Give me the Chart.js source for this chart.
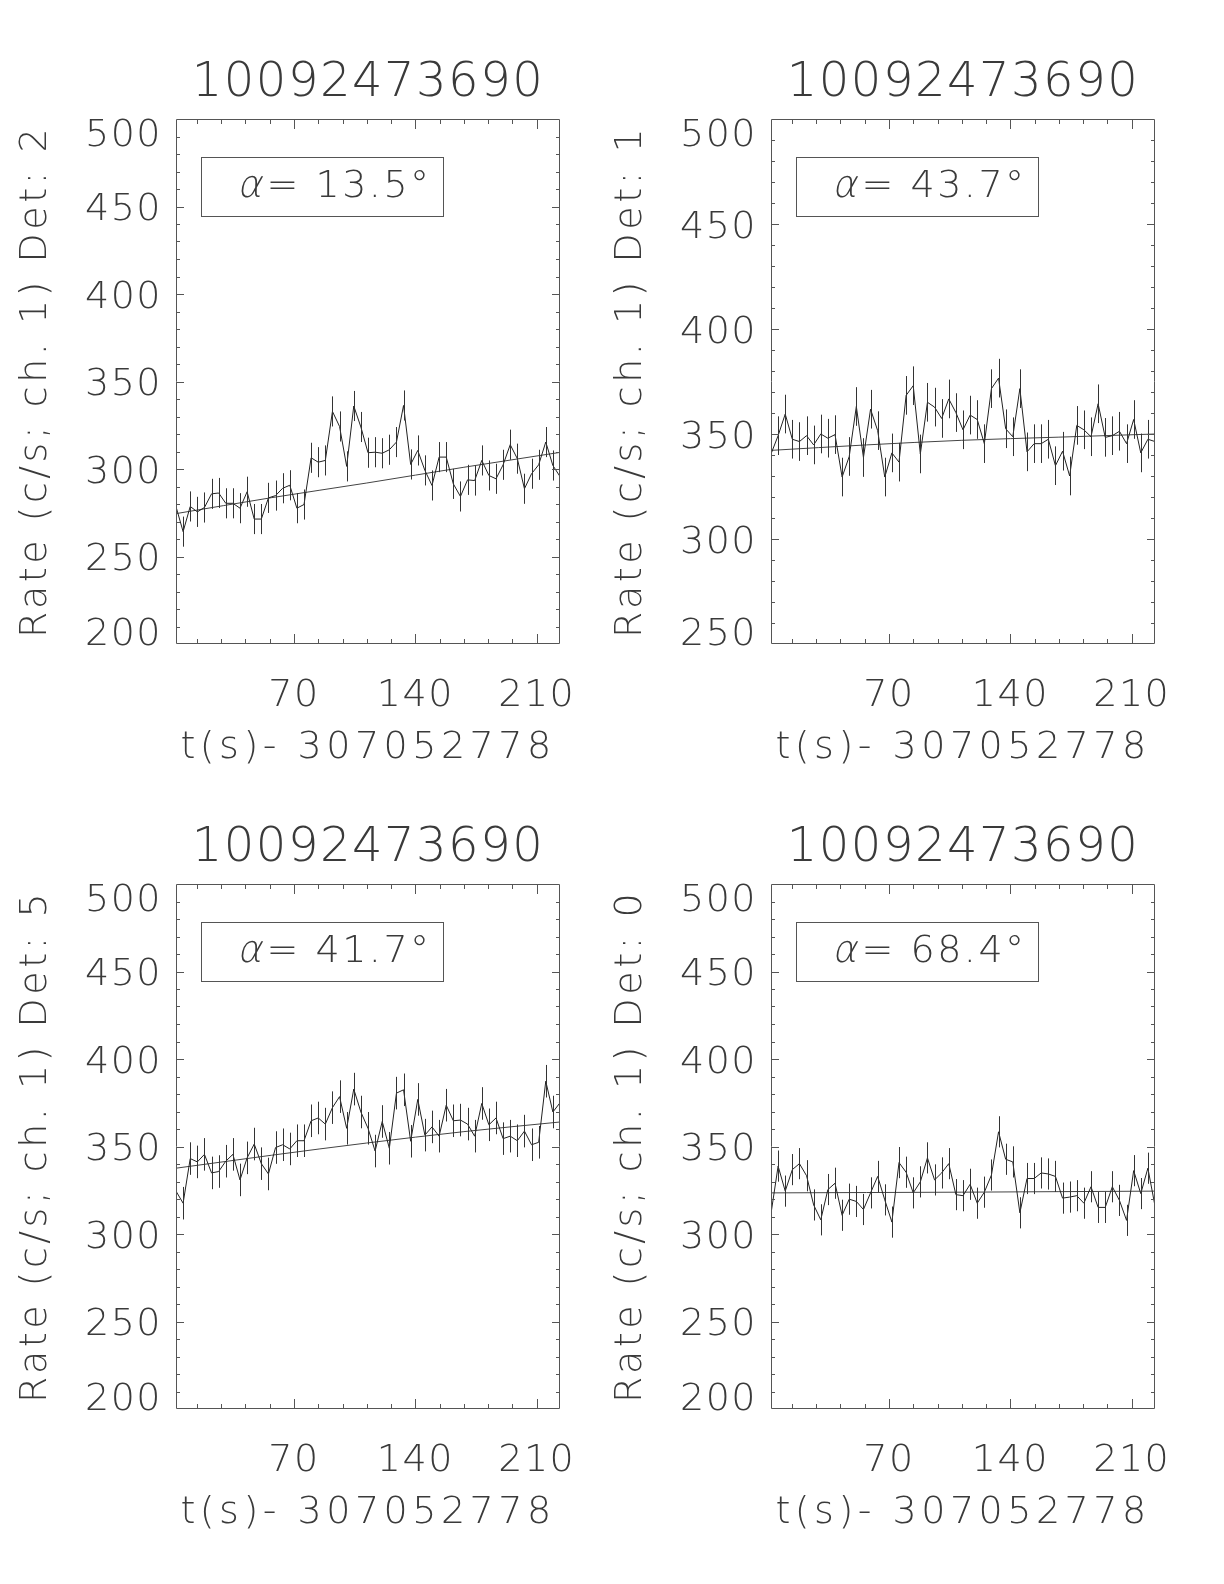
<!DOCTYPE html>
<html>
<head>
<meta charset="utf-8">
<script src="https://cdn.jsdelivr.net/npm/chart.js@4.4.1/dist/chart.umd.min.js"></script>
<style>
  body { margin: 0; background: #fff; }
  #page { position: relative; width: 1224px; height: 1584px; background: #fff; }
  .panel { position: absolute; width: 612px; height: 792px; }
</style>
</head>
<body>
<div id="page">
  <div class="panel" style="left:0px;top:0px"><canvas id="det2" width="612" height="792"></canvas></div>
  <div class="panel" style="left:595px;top:0px"><canvas id="det1" width="612" height="792"></canvas></div>
  <div class="panel" style="left:0px;top:765px"><canvas id="det5" width="612" height="792"></canvas></div>
  <div class="panel" style="left:595px;top:765px"><canvas id="det0" width="612" height="792"></canvas></div>
</div>
<script>
// light curve bins, t(s) - 307052778
const times = [2, 6.1, 10.2, 14.3, 18.4, 22.5, 26.6, 30.7, 34.8, 38.9,
    43, 47.1, 51.2, 55.3, 59.4, 63.5, 67.6, 71.7, 75.8, 79.9,
    84, 88.1, 92.2, 96.3, 100.4, 104.5, 108.6, 112.7, 116.8, 120.9,
    125, 129.1, 133.2, 137.3, 141.4, 145.5, 149.6, 153.7, 157.8, 161.9,
    166, 170.1, 174.2, 178.3, 182.4, 186.5, 190.6, 194.7, 198.8, 202.9,
    207, 211.1, 215.2, 219.3, 223.4];

const rateDet2 = [278.5, 264.2, 278.6, 275.5, 278, 285.8, 286.3, 280.4, 280.4, 277.6,
    287, 271.4, 271.4, 283.5, 284.8, 289, 290.7, 277.6, 279.7, 306.4,
    303.9, 304.9, 332.9, 324.3, 301.5, 336, 324, 309.3, 309.6, 309,
    311, 315.4, 336.3, 302.6, 310.6, 299.2, 290.6, 306.8, 306.8, 291.5,
    284.3, 293.8, 293.4, 304.9, 296.3, 294.4, 302.4, 313.9, 305.9, 288.7,
    297.3, 302.4, 315.4, 302, 295.7];
const rateDet1 = [340.5, 349.2, 359.5, 347.5, 346.4, 349.2, 344.8, 350, 348, 349.7,
    329.5, 339.3, 363.1, 338.8, 361.8, 351.6, 329.5, 341, 336.6, 368.4,
    373, 340.5, 365.1, 362.8, 357.4, 366.7, 360.2, 352, 359, 356.9,
    345.4, 371.6, 376.6, 352.5, 348.7, 371.6, 341.5, 345.4, 345.4, 347.5,
    334.9, 341.8, 330, 354.1, 352, 348.7, 364.4, 348.4, 349.2, 351.3,
    345.4, 356.9, 341, 347.5, 346.4];
const rateDet5 = [324.5, 317.6, 343.1, 341.2, 345.5, 334.9, 335.7, 341.6, 345.5, 330.9,
    343.5, 351.4, 340.2, 334.3, 349.4, 351, 348.6, 353.3, 353.3, 364.7,
    366.3, 362.8, 372.2, 378.5, 360.4, 382.8, 369.7, 360.4, 347.4, 364.3,
    349, 380.5, 382.4, 353, 376.9, 356.5, 361.2, 355.9, 373.6, 364.7,
    365.1, 362.8, 355.9, 374.6, 362.4, 366.3, 354.5, 355.9, 353.3, 358.8,
    351, 352.4, 387.3, 369.7, 375];
const rateDet0 = [311.7, 338.8, 324.5, 336.8, 340.2, 333.3, 316.6, 308.1, 325.4, 329,
    310.7, 319.9, 318.6, 314, 323.5, 332.9, 319.5, 306.8, 340.8, 335.3,
    323.5, 329.8, 343.5, 330.9, 334.9, 340.2, 322.5, 321.9, 328.4, 317.6,
    323.9, 333.7, 358.4, 342.7, 341.2, 312.1, 331.7, 331.7, 334.9, 334.3,
    332.9, 320.5, 321.1, 321.9, 317.6, 327, 315.2, 315.2, 327, 319.2,
    307.8, 336.2, 323.1, 337.6, 316];

// half length of the error bars (c/s)
const errHalf = [8.6, 9.2, 9.3, 8.9];

// fitted background curve
const fitTimes = [2, 57, 112, 168, 223.4];
const fitDet2 = [274.5, 283.6, 292, 301, 309.5];
const fitDet1 = [342.2, 344.8, 347, 348.5, 350];
const fitDet5 = [337.6, 345, 352, 358.5, 364];
const fitDet0 = [323.5, 323.7, 323.9, 324.2, 324.5];

const obsId = '10092473690';
const detectors = [2, 1, 5, 0];
const alphas = ['13.5', '43.7', '41.7', '68.4'];
const yMins = [200, 250, 200, 200];
const yMax = 500;
const xTicks = [70, 140, 210];

const FONT = '"DejaVu Sans", sans-serif';
const TXT = '#3a3a3a';
const INK = '#555';

// Hershey-like wide spacing: a little for numbers, more for the axis titles
const wideText = {
    id: 'wideText',
    beforeDraw(chart) {
        chart.ctx.letterSpacing = '1.5px';
        Object.values(chart.scales).forEach(s => {
            if (s._wide) return;
            let drawTitle = s.drawTitle;
            let gap = s.axis === 'x' ? '4.5px' : '3.5px';
            s.drawTitle = function () {
                let old = this.ctx.letterSpacing;
                this.ctx.letterSpacing = gap;
                drawTitle.call(this);
                this.ctx.letterSpacing = old;
            };
            s._wide = true;
        });
        // IDL keeps the end labels inside the frame
        let items = chart.scales.y.getLabelItems();
        if (!items._nudged) {
            items.forEach((it, i) => {
                let dy = 4;
                if (i === 0) dy = -9;
                else if (i === items.length - 1) dy = 17;
                it.options.translation[1] += dy;
            });
            items._nudged = true;
        }
    }
};

// frame + inward ticks on all four sides
const idlAxes = {
    id: 'idlAxes',
    afterDraw(chart) {
        let ctx = chart.ctx;
        let a = chart.chartArea;
        let x = chart.scales.x;
        let y = chart.scales.y;
        ctx.save();
        ctx.strokeStyle = INK;
        ctx.lineWidth = 1;
        ctx.beginPath();
        ctx.rect(a.left + 0.5, a.top + 0.5, a.right - a.left - 1, a.bottom - a.top - 1);
        for (let v = 14; v < x.max; v += 14) {
            let px = Math.round(x.getPixelForValue(v)) + 0.5;
            let len = v % 70 === 0 ? 10 : 5;
            ctx.moveTo(px, a.bottom);
            ctx.lineTo(px, a.bottom - len);
            ctx.moveTo(px, a.top);
            ctx.lineTo(px, a.top + len);
        }
        for (let v = y.min + 10; v < y.max; v += 10) {
            let py = Math.round(y.getPixelForValue(v)) + 0.5;
            let len = v % 50 === 0 ? 8 : 4;
            ctx.moveTo(a.left, py);
            ctx.lineTo(a.left + len, py);
            ctx.moveTo(a.right, py);
            ctx.lineTo(a.right - len, py);
        }
        ctx.stroke();
        ctx.restore();
    }
};

const errorBars = {
    id: 'errorBars',
    afterDatasetsDraw(chart, args, opts) {
        let ctx = chart.ctx;
        let a = chart.chartArea;
        let y = chart.scales.y;
        let meta = chart.getDatasetMeta(0);
        let pts = chart.data.datasets[0].data;
        ctx.save();
        ctx.beginPath();
        ctx.rect(a.left, a.top, a.right - a.left, a.bottom - a.top);
        ctx.clip();
        ctx.strokeStyle = '#333';
        ctx.lineWidth = 1;
        ctx.beginPath();
        meta.data.forEach((el, i) => {
            let px = Math.round(el.x) + 0.5;
            ctx.moveTo(px, y.getPixelForValue(pts[i].y - opts.err));
            ctx.lineTo(px, y.getPixelForValue(pts[i].y + opts.err));
        });
        ctx.stroke();
        ctx.restore();
    }
};

// the boxed incidence angle
const alphaBox = {
    id: 'alphaBox',
    afterDraw(chart, args, opts) {
        let ctx = chart.ctx;
        let a = chart.chartArea;
        let bx = a.left + 25, by = a.top + 38, bw = 242, bh = 59;
        let tx = bx + 38, ty = by + bh / 2 + 1;
        ctx.save();
        ctx.strokeStyle = INK;
        ctx.lineWidth = 1;
        ctx.strokeRect(bx + 0.5, by + 0.5, bw, bh);
        ctx.fillStyle = TXT;
        ctx.textBaseline = 'middle';
        ctx.textAlign = 'left';
        ctx.letterSpacing = '2.5px';
        ctx.font = '200 38px ' + FONT;
        let w = ctx.measureText('α').width;
        // slanted alpha like the Hershey greek
        ctx.save();
        ctx.translate(tx, ty);
        ctx.transform(1, 0, -0.22, 1, 0, 0);
        ctx.fillText('α', 0, 0);
        ctx.restore();
        ctx.fillText('= ' + opts.angle + '°', tx + w, ty);
        ctx.restore();
    }
};

function makePanel(id, rates, fit, det, alpha, yMin, err) {
    let ctx = document.getElementById(id).getContext('2d');
    let font = { family: FONT, size: 38, weight: '200' };
    new Chart(ctx, {
        type: 'line',
        data: {
            datasets: [{
                data: times.map((t, i) => ({ x: t, y: rates[i] })),
                borderColor: '#222',
                borderWidth: 1,
                pointRadius: 0,
                tension: 0
            }, {
                data: fitTimes.map((t, i) => ({ x: t, y: fit[i] })),
                borderColor: '#444',
                borderWidth: 1,
                pointRadius: 0,
                cubicInterpolationMode: 'monotone'
            }]
        },
        options: {
            responsive: false,
            animation: false,
            layout: { padding: { left: 0, right: 52, top: 0, bottom: 0 } },
            plugins: {
                legend: { display: false },
                tooltip: { enabled: false },
                title: {
                    display: true,
                    fullSize: false,
                    text: obsId,
                    color: TXT,
                    font: { family: FONT, size: 48, weight: '200' },
                    padding: { top: 54.7, bottom: 6.7 }
                },
                errorBars: { err: err },
                alphaBox: { angle: alpha }
            },
            scales: {
                x: {
                    type: 'linear',
                    min: times[0],
                    max: times[times.length - 1],
                    grid: { display: false, drawTicks: false },
                    border: { display: false },
                    afterBuildTicks: s => { s.ticks = xTicks.map(v => ({ value: v })); },
                    ticks: { color: TXT, font: font, padding: 29, maxRotation: 0, autoSkip: false },
                    title: { display: true, text: 't(s)- 307052778', color: TXT, font: font, padding: 21 },
                    afterFit: s => { s.height = 148; }
                },
                y: {
                    type: 'linear',
                    min: yMin,
                    max: yMax,
                    grid: { display: false, drawTicks: false },
                    border: { display: false },
                    ticks: { stepSize: 50, color: TXT, font: font, padding: 14 },
                    title: { display: true, text: 'Rate (c/s; ch. 1) Det: ' + det, color: TXT, font: font, padding: 13 },
                    afterFit: s => { s.width = 176; }
                }
            }
        },
        plugins: [wideText, idlAxes, errorBars, alphaBox]
    });
}

makePanel('det2', rateDet2, fitDet2, detectors[0], alphas[0], yMins[0], errHalf[0]);
makePanel('det1', rateDet1, fitDet1, detectors[1], alphas[1], yMins[1], errHalf[1]);
makePanel('det5', rateDet5, fitDet5, detectors[2], alphas[2], yMins[2], errHalf[2]);
makePanel('det0', rateDet0, fitDet0, detectors[3], alphas[3], yMins[3], errHalf[3]);
</script>
</body>
</html>
